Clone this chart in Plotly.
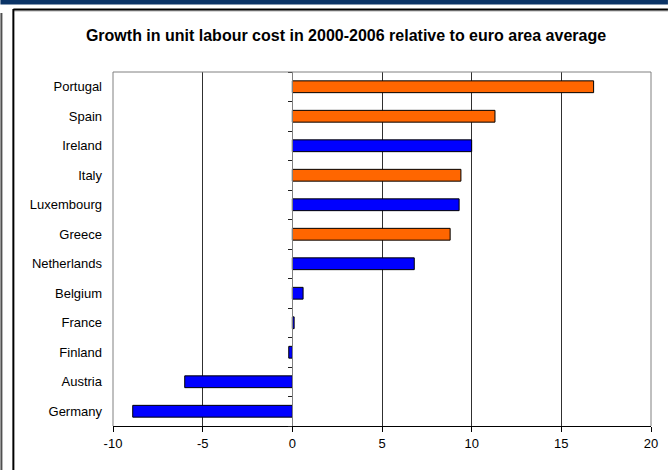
import plotly.graph_objects as go

# Growth in unit labour cost 2000-2006, relative to the euro area average (%)
countries = ["Portugal", "Spain", "Ireland", "Italy", "Luxembourg", "Greece",
             "Netherlands", "Belgium", "France", "Finland", "Austria", "Germany"]
ulc_growth = [16.8, 11.3, 10.0, 9.4, 9.3, 8.8, 6.8, 0.6, 0.1, -0.2, -6.0, -8.9]
highlighted = ["Portugal", "Spain", "Italy", "Greece"]
x_ticks = [-10, -5, 0, 5, 10, 15, 20]
x_tick_labels = ["-10", "-5", "0", "5", "10", "15", "20"]

ORANGE = "#FF6600"
BLUE = "#0000FF"
FONT = "Liberation Sans, Arial, sans-serif"

W, H = 670, 470
ML, MR, MT, MB = 113, 17, 72, 44
PW, PH = W - ML - MR, H - MT - MB


def px_x(p):
    return (p - ML) / PW


def px_y(p):
    return (H - MB - p) / PH


# bottom-to-top order for the category axis
cats = countries[::-1]
vals = ulc_growth[::-1]
colors = [ORANGE if c in highlighted else BLUE for c in cats]
n = len(cats)

fig = go.Figure()
fig.add_trace(go.Bar(
    x=vals, y=cats, orientation="h", width=0.4,
    marker=dict(color=colors, line=dict(color="black", width=1)),
    hoverinfo="x+y", showlegend=False,
))
# helper trace that carries the zero-line axis with boundary ticks
fig.add_trace(go.Scatter(
    x=[0], y=[0], yaxis="y2", mode="markers",
    marker=dict(opacity=0), hoverinfo="skip", showlegend=False,
))

xmin, xmax = x_ticks[0], x_ticks[-1]
fig.update_layout(
    width=W, height=H,
    margin=dict(l=ML, r=MR, t=MT, b=MB),
    paper_bgcolor="white", plot_bgcolor="white",
    font=dict(family=FONT, size=13, color="black"),
    title=dict(
        text="<b>Growth in unit labour cost in 2000-2006 relative to euro area average</b>",
        x=346 / W, xanchor="center", y=1 - 35 / H, yanchor="middle",
        font=dict(family=FONT, size=16, color="black"),
    ),
    xaxis=dict(
        range=[xmin, xmax], tickvals=x_ticks, ticktext=x_tick_labels,
        showgrid=True, gridcolor="#303030", gridwidth=1, zeroline=False,
        showline=True, linecolor="black", linewidth=1,
        ticks="outside", ticklen=5, tickcolor="black",
        tickfont=dict(size=13), fixedrange=True,
    ),
    yaxis=dict(
        categoryorder="array", categoryarray=cats, range=[-0.5, n - 0.5],
        showgrid=False, zeroline=False, showline=False, ticks="",
        ticklabelstandoff=10, tickfont=dict(size=13), fixedrange=True,
    ),
    yaxis2=dict(
        overlaying="y", anchor="free", side="left",
        position=(0 - xmin) / (xmax - xmin),
        range=[-0.5, n - 0.5],
        tickvals=[i - 0.5 for i in range(n + 1)],
        showticklabels=False, showgrid=False, zeroline=False,
        showline=True, linecolor="#808080", linewidth=1,
        ticks="outside", ticklen=4, tickcolor="#202020", fixedrange=True,
    ),
    bargap=0.6,
)

shapes = [
    # plot frame (left, top, right)
    dict(type="line", xref="paper", yref="paper", x0=0, x1=0, y0=0, y1=1,
         line=dict(color="#808080", width=1), layer="above"),
    dict(type="line", xref="paper", yref="paper", x0=0, x1=1, y0=1, y1=1,
         line=dict(color="#808080", width=1), layer="above"),
    dict(type="line", xref="paper", yref="paper", x0=1, x1=1, y0=0, y1=1,
         line=dict(color="#808080", width=1), layer="above"),
    # page header band
    dict(type="rect", xref="paper", yref="paper",
         x0=px_x(0), x1=px_x(W), y0=px_y(4.5), y1=px_y(0),
         line=dict(width=0), fillcolor="#0b3467", layer="above"),
    # chart box border
    dict(type="line", xref="paper", yref="paper",
         x0=px_x(13), x1=px_x(W), y0=px_y(11), y1=px_y(11),
         line=dict(color="#b0b0b0", width=1), layer="above"),
    dict(type="line", xref="paper", yref="paper",
         x0=px_x(13), x1=px_x(W), y0=px_y(9.5), y1=px_y(9.5),
         line=dict(color="black", width=2), layer="above"),
    dict(type="line", xref="paper", yref="paper",
         x0=px_x(13), x1=px_x(13), y0=px_y(H), y1=px_y(9),
         line=dict(color="black", width=2), layer="above"),
    # left page edge
    dict(type="line", xref="paper", yref="paper",
         x0=px_x(1), x1=px_x(1), y0=px_y(H), y1=px_y(13),
         line=dict(color="#505050", width=2), layer="above"),
]
fig.update_layout(shapes=shapes)

fig.write_html("out.html")
